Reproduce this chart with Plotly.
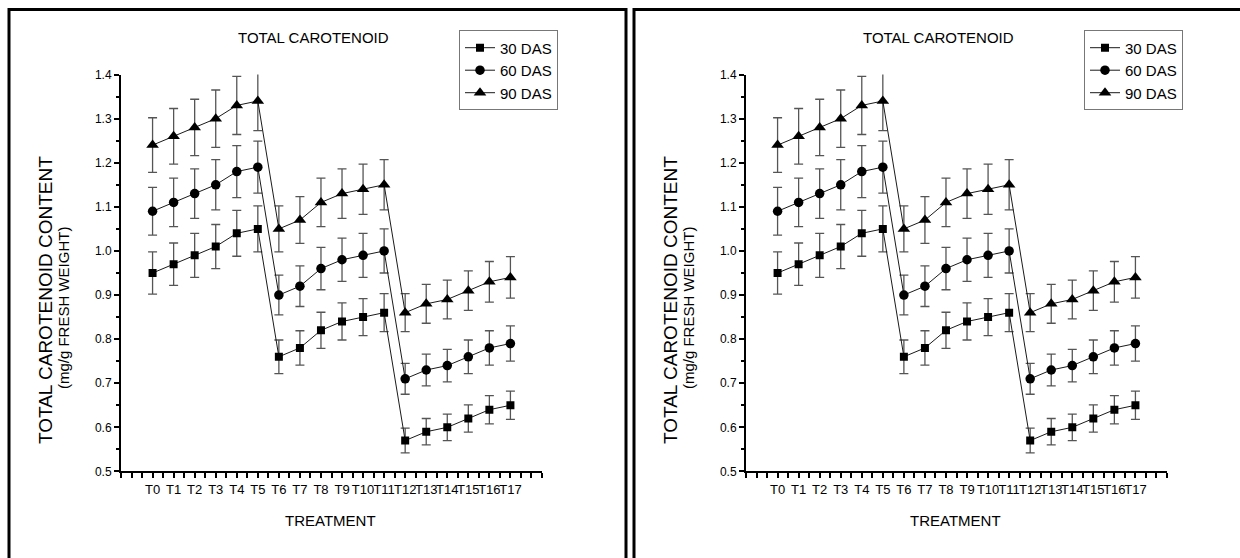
import plotly.graph_objects as go

W, H = 1240, 558

treatments = ["T0", "T1", "T2", "T3", "T4", "T5", "T6", "T7", "T8", "T9",
              "T10", "T11", "T12", "T13", "T14", "T15", "T16", "T17"]

das30 = [0.95, 0.97, 0.99, 1.01, 1.04, 1.05, 0.76, 0.78, 0.82, 0.84, 0.85, 0.86,
         0.57, 0.59, 0.60, 0.62, 0.64, 0.65]
das60 = [1.09, 1.11, 1.13, 1.15, 1.18, 1.19, 0.90, 0.92, 0.96, 0.98, 0.99, 1.00,
         0.71, 0.73, 0.74, 0.76, 0.78, 0.79]
das90 = [1.24, 1.26, 1.28, 1.30, 1.33, 1.34, 1.05, 1.07, 1.11, 1.13, 1.14, 1.15,
         0.86, 0.88, 0.89, 0.91, 0.93, 0.94]

err30 = [0.048, 0.048, 0.050, 0.050, 0.052, 0.052, 0.038, 0.039, 0.041, 0.042, 0.042, 0.043,
         0.028, 0.030, 0.030, 0.031, 0.032, 0.032]
err60 = [0.054, 0.055, 0.056, 0.057, 0.059, 0.059, 0.045, 0.046, 0.048, 0.049, 0.050, 0.050,
         0.035, 0.036, 0.037, 0.038, 0.039, 0.040]
err90 = [0.062, 0.063, 0.064, 0.065, 0.066, 0.067, 0.052, 0.053, 0.055, 0.056, 0.057, 0.057,
         0.043, 0.044, 0.044, 0.045, 0.046, 0.047]

series = [("30 DAS", das30, err30, "square", 8),
          ("60 DAS", das60, err60, "circle", 9.5),
          ("90 DAS", das90, err90, "triangle-up", 11)]

NARROW = "Liberation Sans, Arial, sans-serif"
REG = "Liberation Sans, Arial, sans-serif"

fig = go.Figure()
xs = list(range(len(treatments)))

OFFSET = 625  # px offset of right panel

for panel, (xa, ya, lg) in enumerate([("x", "y", "legend"), ("x2", "y2", "legend2")]):
    for name, vals, errs, sym, sz in series:
        fig.add_trace(go.Scatter(
            x=xs, y=vals, xaxis=xa, yaxis=ya, name=name, legend=lg,
            mode="lines+markers",
            line=dict(color="#1a1a1a", width=1),
            marker=dict(symbol=sym, size=sz, color="black"),
            error_y=dict(type="data", array=errs, visible=True,
                         color="#555555", thickness=1.3, width=4.5),
            showlegend=True,
        ))

def px_x(p):
    return p / W

def px_y(p):
    p = 279 + (p - 279) * 1.028
    return 1 - p / H

ax_common = dict(
    showline=True, linecolor="black", linewidth=2, showgrid=False, zeroline=False,
    ticks="outside", tickcolor="black", tickwidth=1.5, mirror=False,
)

xdom1 = [px_x(121), px_x(542)]
xdom2 = [px_x(121 + OFFSET), px_x(542 + OFFSET)]
ydom = [px_y(471), px_y(75)]

xax = dict(ax_common, range=[-1.5, 18.5], tickmode="array", tickvals=xs, ticktext=treatments,
           ticklen=5, tickangle=0, tickfont=dict(family=NARROW, size=13, color="black"),
           minor=dict(dtick=0.5, tick0=0, ticklen=5, ticks="outside", tickcolor="black", tickwidth=1.5))
yax = dict(ax_common, range=[0.5, 1.4], dtick=0.1, tick0=0.5, tickformat=".1f", ticklen=5,
           tickfont=dict(family=NARROW, size=12, color="black"),
           minor=dict(dtick=0.05, ticklen=3, ticks="outside", tickcolor="black", tickwidth=1.5))

leg_common = dict(xanchor="left", yanchor="top",
                  bordercolor="#777777", borderwidth=1, bgcolor="white",
                  font=dict(family=NARROW, size=15, color="black"),
                  itemwidth=30, tracegroupgap=0)

fig.update_layout(
    width=W, height=H, margin=dict(l=0, r=0, t=0, b=0),
    plot_bgcolor="white", paper_bgcolor="white",
    xaxis=dict(xax, domain=xdom1, anchor="y"),
    yaxis=dict(yax, domain=ydom, anchor="x"),
    xaxis2=dict(xax, domain=xdom2, anchor="y2"),
    yaxis2=dict(yax, domain=ydom, anchor="x2"),
    legend=dict(leg_common, x=px_x(459), y=px_y(31)),
    legend2=dict(leg_common, x=px_x(459 + OFFSET), y=px_y(31)),
)

shapes = []
annotations = []
for off in [0, OFFSET]:
    right = 626 + off if off == 0 else W + 5
    shapes.append(dict(type="rect", xref="paper", yref="paper",
                       x0=px_x(9 + off), x1=px_x(right), y0=-0.05, y1=px_y(10),
                       line=dict(color="black", width=3), fillcolor="rgba(0,0,0,0)"))
    annotations.append(dict(text="TOTAL CAROTENOID", x=px_x(313 + off), y=px_y(38),
                            xref="paper", yref="paper", showarrow=False,
                            xanchor="center", yanchor="middle",
                            font=dict(family=NARROW, size=15, color="black")))
    annotations.append(dict(text="TREATMENT", x=px_x(330 + off), y=px_y(520),
                            xref="paper", yref="paper", showarrow=False,
                            xanchor="center", yanchor="middle",
                            font=dict(family=NARROW, size=15, color="black")))
    annotations.append(dict(text="TOTAL CAROTENOID CONTENT", x=px_x(45 + off), y=px_y(300),
                            xref="paper", yref="paper", showarrow=False, textangle=-90,
                            xanchor="center", yanchor="middle",
                            font=dict(family=REG, size=19, color="black")))
    annotations.append(dict(text="(mg/g FRESH WEIGHT)", x=px_x(63 + off), y=px_y(308),
                            xref="paper", yref="paper", showarrow=False, textangle=-90,
                            xanchor="center", yanchor="middle",
                            font=dict(family=REG, size=15, color="black")))

fig.update_layout(shapes=shapes, annotations=annotations)

post = ("var h=document.documentElement,b=document.body;"
        "h.style.margin='0';h.style.padding='0';h.style.overflow='hidden';h.style.height='558px';"
        "b.style.margin='0';b.style.padding='0';b.style.overflow='hidden';b.style.height='558px';")

fig.write_html("out.html", config={"displayModeBar": False}, post_script=post)
